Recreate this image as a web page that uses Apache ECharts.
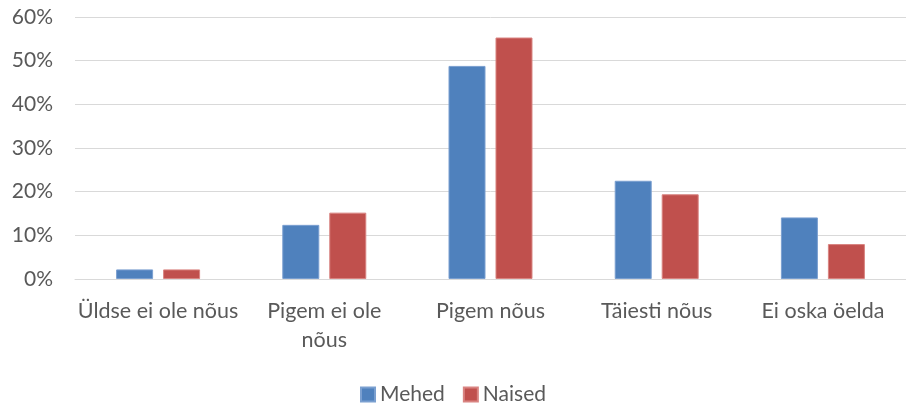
<!DOCTYPE html>
<html>
<head>
<meta charset="utf-8">
<script src="https://cdn.jsdelivr.net/npm/echarts@6/dist/echarts.min.js"></script>
<style>
    html, body { margin: 0; padding: 0; background: #fff; }
    #chart { width: 906px; height: 403px; }
</style>
</head>
<body>
<div id="chart"></div>
<script>
const categories = ["Üldse ei ole nõus", "Pigem ei ole\nnõus", "Pigem nõus", "Täiesti nõus", "Ei oska öelda"];
const mehed = [2.2, 12.4, 48.8, 22.5, 14.1];
const naised = [2.2, 15.2, 55.3, 19.4, 8.0];
const yTicks = [0, 10, 20, 30, 40, 50, 60];

const labelColor = "#595959";
const fontFamily = "Lato, 'Open Sans', sans-serif";

const chart = echarts.init(document.getElementById("chart"));
chart.setOption({
    animation: false,
    textStyle: { fontFamily: fontFamily },
    grid: { left: 75, top: 17, width: 834, height: 262, containLabel: false },
    legend: {
        top: 379,
        left: "center",
        itemWidth: 14,
        itemHeight: 14,
        itemGap: 18,
        icon: "rect",
        textStyle: { color: labelColor, fontSize: 21, fontFamily: fontFamily },
        data: ["Mehed", "Naised"]
    },
    xAxis: {
        type: "category",
        data: categories,
        axisLine: { lineStyle: { color: "#d9d9d9" } },
        axisTick: { show: false },
        axisLabel: { color: labelColor, fontSize: 21.5, margin: 18, lineHeight: 29, interval: 0 }
    },
    yAxis: {
        type: "value",
        min: yTicks[0],
        max: yTicks[yTicks.length - 1],
        interval: 10,
        axisLine: { show: false },
        axisTick: { show: false },
        splitLine: { lineStyle: { color: "#d9d9d9", width: 1 } },
        axisLabel: { color: labelColor, fontSize: 21, margin: 22, formatter: (v) => `${v}%` }
    },
    series: [
        {
            name: "Mehed",
            type: "bar",
            data: mehed,
            barWidth: 37,
            barGap: "27%",
            itemStyle: { color: "#4f81bd", borderColor: "#7a9fd0", borderWidth: 1 }
        },
        {
            name: "Naised",
            type: "bar",
            data: naised,
            barWidth: 37,
            itemStyle: { color: "#c0504d", borderColor: "#d98481", borderWidth: 1 }
        }
    ]
});
</script>
</body>
</html>
